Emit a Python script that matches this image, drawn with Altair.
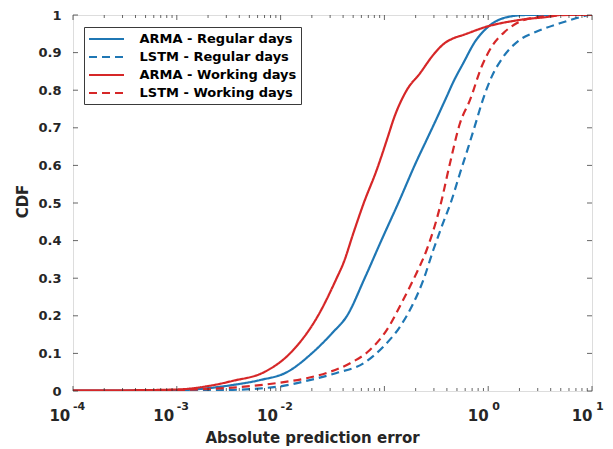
import altair as alt
import pandas as pd

# ---------------- data ----------------
series_names = ["ARMA - Regular days", "LSTM - Regular days",
                "ARMA - Working days", "LSTM - Working days"]
series_colors = ["#1f77b4", "#1f77b4", "#d62728", "#d62728"]
series_dashes = [[1, 0], [8, 5], [1, 0], [8, 5]]

# log10 of absolute prediction error, and CDF value
arma_regular_lg = [-4, -3.5, -3.0, -2.68, -2.46, -2.2, -1.94, -1.70, -1.50, -1.36, -1.19,
                   -1.03, -0.866, -0.689, -0.593, -0.496, -0.40, -0.336, -0.24, -0.127,
                   -0.015, 0.066, 0.178, 0.37, 1]
arma_regular_cdf = [0.001, 0.001, 0.002, 0.008, 0.016, 0.029, 0.05, 0.10, 0.155, 0.20, 0.30,
                    0.40, 0.50, 0.612, 0.668, 0.725, 0.783, 0.822, 0.872, 0.929,
                    0.965, 0.982, 0.994, 1.0, 1.0]

lstm_regular_lg = [-3.5, -2.6, -2.04, -1.72, -1.46, -1.2, -1.01, -0.85, -0.72, -0.625, -0.529,
                   -0.448, -0.352, -0.272, -0.19, -0.111, -0.063, 0.034, 0.146, 0.306, 0.467,
                   0.69, 0.884, 0.98, 1]
lstm_regular_cdf = [0.0, 0.002, 0.011, 0.029, 0.048, 0.074, 0.118, 0.171, 0.234, 0.295, 0.375,
                    0.437, 0.508, 0.579, 0.65, 0.721, 0.765, 0.836, 0.889, 0.934, 0.956,
                    0.978, 0.994, 1.0, 1.0]

arma_working_lg = [-4, -3.5, -3.0, -2.68, -2.46, -2.16, -1.91, -1.64, -1.46, -1.395, -1.30,
                   -1.20, -1.074, -0.962, -0.914, -0.785, -0.657, -0.529, -0.42, -0.336,
                   -0.24, -0.015, 0.306, 0.627, 0.69, 1]
arma_working_cdf = [0.002, 0.002, 0.004, 0.014, 0.027, 0.05, 0.10, 0.20, 0.30, 0.34, 0.419,
                    0.499, 0.588, 0.68, 0.721, 0.80, 0.845, 0.894, 0.925, 0.938,
                    0.947, 0.969, 0.987, 0.997, 1.0, 1.0]

lstm_working_lg = [-3.5, -2.52, -2.04, -1.75, -1.556, -1.33, -1.14, -0.978, -0.82, -0.69, -0.593,
                   -0.464, -0.368, -0.272, -0.175, -0.063, 0.034, 0.162, 0.274, 0.467, 0.79, 1]
lstm_working_cdf = [0.0, 0.008, 0.021, 0.034, 0.048, 0.074, 0.109, 0.162, 0.242, 0.314, 0.375,
                    0.49, 0.606, 0.712, 0.774, 0.863, 0.916, 0.956, 0.978, 0.994, 1.0, 1.0]

y_ticks = [0, 0.1, 0.2, 0.3, 0.4, 0.5, 0.6, 0.7, 0.8, 0.9, 1]
x_major_ticks = [0.0001, 0.001, 0.01, 0.1, 1, 10]
x_minor_ticks = [m * d for d in [0.0001, 0.001, 0.01, 0.1, 1] for m in range(2, 10)]
xlab_two_vals = [0.0001, 0.001, 0.01]
xlab_two_exp = ["-4", "-3", "-2"]
xlab_one_vals = [1, 10]
xlab_one_exp = ["0", "1"]

# ---------------- tables ----------------
rows = []
for name, lg, cdf in zip(series_names,
                         [arma_regular_lg, lstm_regular_lg, arma_working_lg, lstm_working_lg],
                         [arma_regular_cdf, lstm_regular_cdf, arma_working_cdf, lstm_working_cdf]):
    for a, b in zip(lg, cdf):
        rows.append({"series": name, "lg": a, "cdf": b})
df = pd.DataFrame(rows)

W, H = 519, 376
FONT = "DejaVu Sans"
INK = "#262626"
NBSP = "\u00a0" * 6

x_scale = alt.Scale(type="log", domain=[0.0001, 10], nice=False)
y_scale = alt.Scale(domain=[0, 1], nice=False)

x_axis = alt.Axis(labels=False, ticks=False, domain=False, grid=False,
                  title="Absolute prediction error", titleFont=FONT,
                  titleFontWeight="bold", titleFontSize=15, titleColor=INK,
                  titleX=239, titleY=51, titleBaseline="alphabetic",
                  titleAlign="center")
y_axis = alt.Axis(values=y_ticks, format=".1~f", ticks=False, domain=False,
                  grid=False, labelFont=FONT, labelFontWeight="bold",
                  labelFontSize=13, labelColor=INK, labelPadding=12,
                  title="CDF", titleFont=FONT, titleFontWeight="bold",
                  titleFontSize=15, titleColor=INK, titleAngle=270,
                  titleX=-46, titleY=186, titleBaseline="alphabetic",
                  titleAlign="center")

legend = alt.Legend(
    title=None, orient="none", legendX=11, legendY=12, direction="vertical",
    symbolType="M-2.5,0H2.5", symbolSize=196, symbolStrokeWidth=2, symbolOffset=10.5,
    labelFont=FONT, labelFontWeight="bold", labelFontSize=13, labelColor="black",
    labelOffset=25, labelLimit=300, padding=4, rowPadding=3,
    strokeColor="#3a3a3a", fillColor="white",
    labelExpr="datum.label + '" + NBSP + "'",
)

lines = alt.Chart(df).transform_calculate(
    err="pow(10, datum.lg)"
).mark_line(strokeWidth=2.2, clip=True, interpolate="monotone").encode(
    x=alt.X("err:Q", scale=x_scale, axis=x_axis),
    y=alt.Y("cdf:Q", scale=y_scale, axis=y_axis),
    color=alt.Color("series:N", scale=alt.Scale(domain=series_names, range=series_colors),
                    legend=legend),
    strokeDash=alt.StrokeDash("series:N",
                              scale=alt.Scale(domain=series_names, range=series_dashes),
                              legend=legend),
    order=alt.Order("lg:Q"),
)

ydf = pd.DataFrame({"v": y_ticks})
xmaj = pd.DataFrame({"v": x_major_ticks})
xmin = pd.DataFrame({"v": x_minor_ticks})

def ytick(xpos):
    return alt.Chart(ydf).mark_tick(size=5, thickness=1, color=INK).encode(
        y=alt.Y("v:Q", scale=y_scale, axis=y_axis), x=alt.value(xpos))

def xtick(data, size, ypos):
    return alt.Chart(data).mark_tick(size=size, thickness=1, color=INK).encode(
        x=alt.X("v:Q", scale=x_scale, axis=x_axis), y=alt.value(ypos))

ticks = [ytick(2.5), ytick(W - 2.5),
         xtick(xmaj, 5, H - 2.5), xtick(xmaj, 5, 2.5),
         xtick(xmin, 3, H - 1.5), xtick(xmin, 3, 1.5)]

def xlabels(vals, exps, base_dx, exp_dx):
    d = pd.DataFrame({"v": vals, "e": exps})
    base = alt.Chart(d).mark_text(align="right", baseline="alphabetic", dx=base_dx,
                                  font=FONT, fontWeight="bold", fontSize=15, color=INK,
                                  text="10").encode(
        x=alt.X("v:Q", scale=x_scale, axis=x_axis), y=alt.value(406))
    ex = alt.Chart(d).mark_text(align="left", baseline="alphabetic", dx=exp_dx,
                                font=FONT, fontWeight="bold", fontSize=11, color=INK).encode(
        x=alt.X("v:Q", scale=x_scale, axis=x_axis), y=alt.value(395), text="e:N")
    return [base, ex]

labels = xlabels(xlab_two_vals, xlab_two_exp, -2.7, 0) + xlabels(xlab_one_vals, xlab_one_exp, 0.5, 4)

chart = alt.layer(lines, *ticks, *labels).properties(
    width=W, height=H,
    autosize=alt.AutoSizeParams(type="none"),
    padding={"left": 73, "top": 15, "right": 21, "bottom": 58},
).configure_view(stroke=INK, strokeWidth=1).configure(background="white")

chart.save("out.html", embed_options={"renderer": "svg", "actions": False})
